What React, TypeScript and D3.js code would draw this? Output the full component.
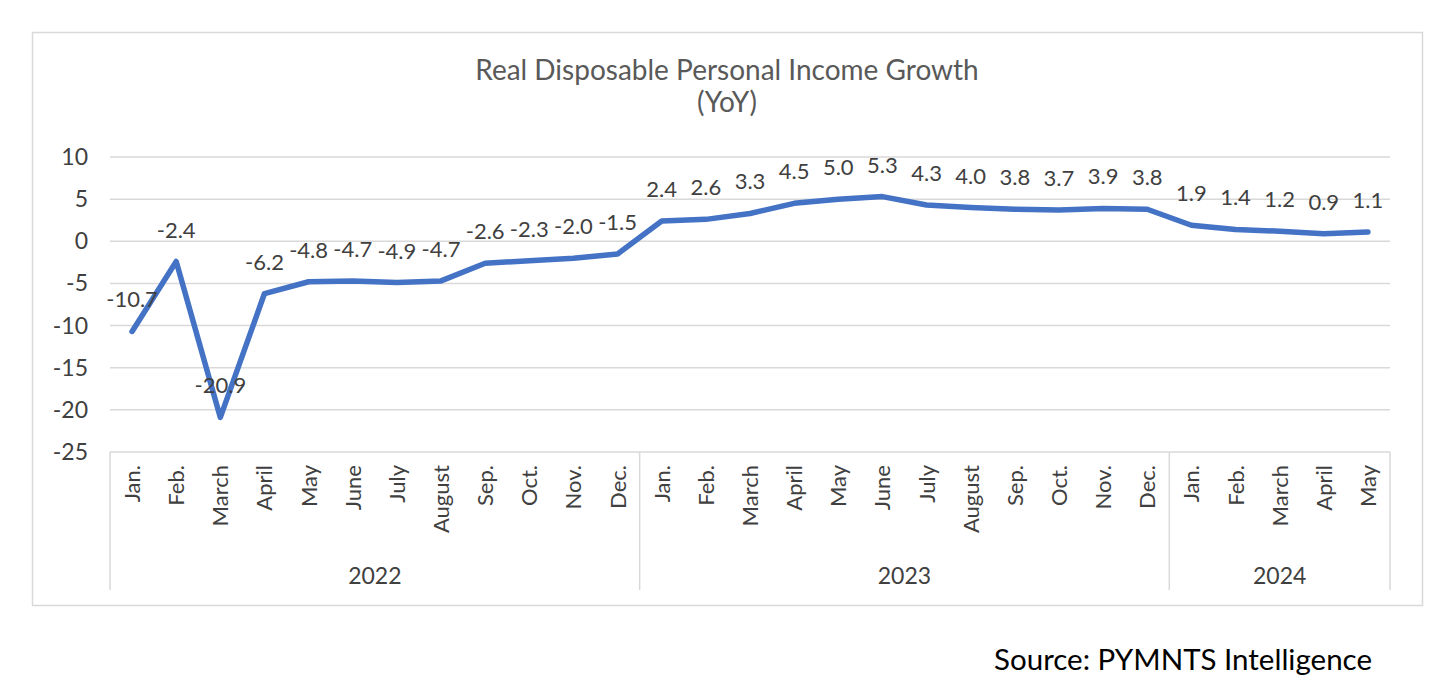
import React from "react";
import * as d3 from "d3";

const months2022 = ["Jan.", "Feb.", "March", "April", "May", "June", "July", "August", "Sep.", "Oct.", "Nov.", "Dec."];
const months2023 = ["Jan.", "Feb.", "March", "April", "May", "June", "July", "August", "Sep.", "Oct.", "Nov.", "Dec."];
const months2024 = ["Jan.", "Feb.", "March", "April", "May"];
const years = ["2022", "2023", "2024"];
const values2022 = [-10.7, -2.4, -20.9, -6.2, -4.8, -4.7, -4.9, -4.7, -2.6, -2.3, -2.0, -1.5];
const values2023 = [2.4, 2.6, 3.3, 4.5, 5.0, 5.3, 4.3, 4.0, 3.8, 3.7, 3.9, 3.8];
const values2024 = [1.9, 1.4, 1.2, 0.9, 1.1];
const yTicks = [10, 5, 0, -5, -10, -15, -20, -25];

const groups = [
  { year: years[0], months: months2022, values: values2022 },
  { year: years[1], months: months2023, values: values2023 },
  { year: years[2], months: months2024, values: values2024 },
];

type Pt = { key: string; month: string; year: string; value: number; idx: number };
const points: Pt[] = [];
groups.forEach((g) =>
  g.months.forEach((m, i) =>
    points.push({ key: `${g.year}-${i}`, month: m, year: g.year, value: g.values[i], idx: points.length })
  )
);

const W = 1448;
const H = 690;
const left = 110;
const right = 1390;
const top = 157;
const bottom = 452;
const font = "Lato, 'Open Sans', sans-serif";

export default function App() {
  const x = d3.scaleBand<string>().domain(points.map((p) => p.key)).range([left, right]).padding(0);
  const y = d3.scaleLinear().domain([-25, 10]).range([bottom, top]);
  const line = d3
    .line<Pt>()
    .x((p) => (x(p.key) as number) + x.bandwidth() / 2)
    .y((p) => y(p.value));

  let offset = 0;
  const groupPos = groups.map((g) => {
    const start = left + offset * x.bandwidth();
    offset += g.months.length;
    const end = left + offset * x.bandwidth();
    return { ...g, start, end };
  });

  return (
    <svg width={W} height={H} style={{ position: "absolute", left: 0, top: 0, background: "#fff" }}>
      <rect x={32.5} y={32.5} width={1390} height={573} fill="#fff" stroke="#d9d9d9" strokeWidth={1.5} />
      <text x={727} y={80} textAnchor="middle" fontFamily={font} fontSize={28} fill="#595959">
        Real Disposable Personal Income Growth
      </text>
      <text x={727} y={112} textAnchor="middle" fontFamily={font} fontSize={28} fill="#595959">
        (YoY)
      </text>
      {yTicks.map((t) => (
        <g key={t}>
          <line x1={left} x2={right} y1={y(t)} y2={y(t)} stroke="#d9d9d9" strokeWidth={1.5} />
          <text x={88} y={y(t) + 8} textAnchor="end" fontFamily={font} fontSize={23} fill="#404040">
            {t}
          </text>
        </g>
      ))}
      {groupPos.map((g, i) => (
        <line key={`s${i}`} x1={g.start} x2={g.start} y1={bottom} y2={590} stroke="#d9d9d9" strokeWidth={1.5} />
      ))}
      <line x1={right} x2={right} y1={bottom} y2={590} stroke="#d9d9d9" strokeWidth={1.5} />
      {points.map((p) => {
        const cx = (x(p.key) as number) + x.bandwidth() / 2;
        return (
          <text
            key={`m${p.key}`}
            transform={`translate(${cx + 8},${465}) rotate(-90)`}
            textAnchor="end"
            fontFamily={font}
            fontSize={22}
            fill="#404040"
          >
            {p.month}
          </text>
        );
      })}
      {groupPos.map((g) => (
        <text
          key={`y${g.year}`}
          x={(g.start + g.end) / 2}
          y={584}
          textAnchor="middle"
          fontFamily={font}
          fontSize={23}
          fill="#404040"
        >
          {g.year}
        </text>
      ))}
      <path d={line(points) || ""} fill="none" stroke="#4472C4" strokeWidth={5.5} strokeLinejoin="round" strokeLinecap="round" />
      {points.map((p) => (
        <text
          key={`l${p.key}`}
          x={(x(p.key) as number) + x.bandwidth() / 2}
          y={y(p.value) - 24}
          textAnchor="middle"
          fontFamily={font}
          fontSize={22}
          fill="#404040"
        >
          {p.value.toFixed(1)}
        </text>
      ))}
      <text x={1372} y={670} textAnchor="end" fontFamily={font} fontSize={29.5} fill="#000">
        Source: PYMNTS Intelligence
      </text>
    </svg>
  );
}
